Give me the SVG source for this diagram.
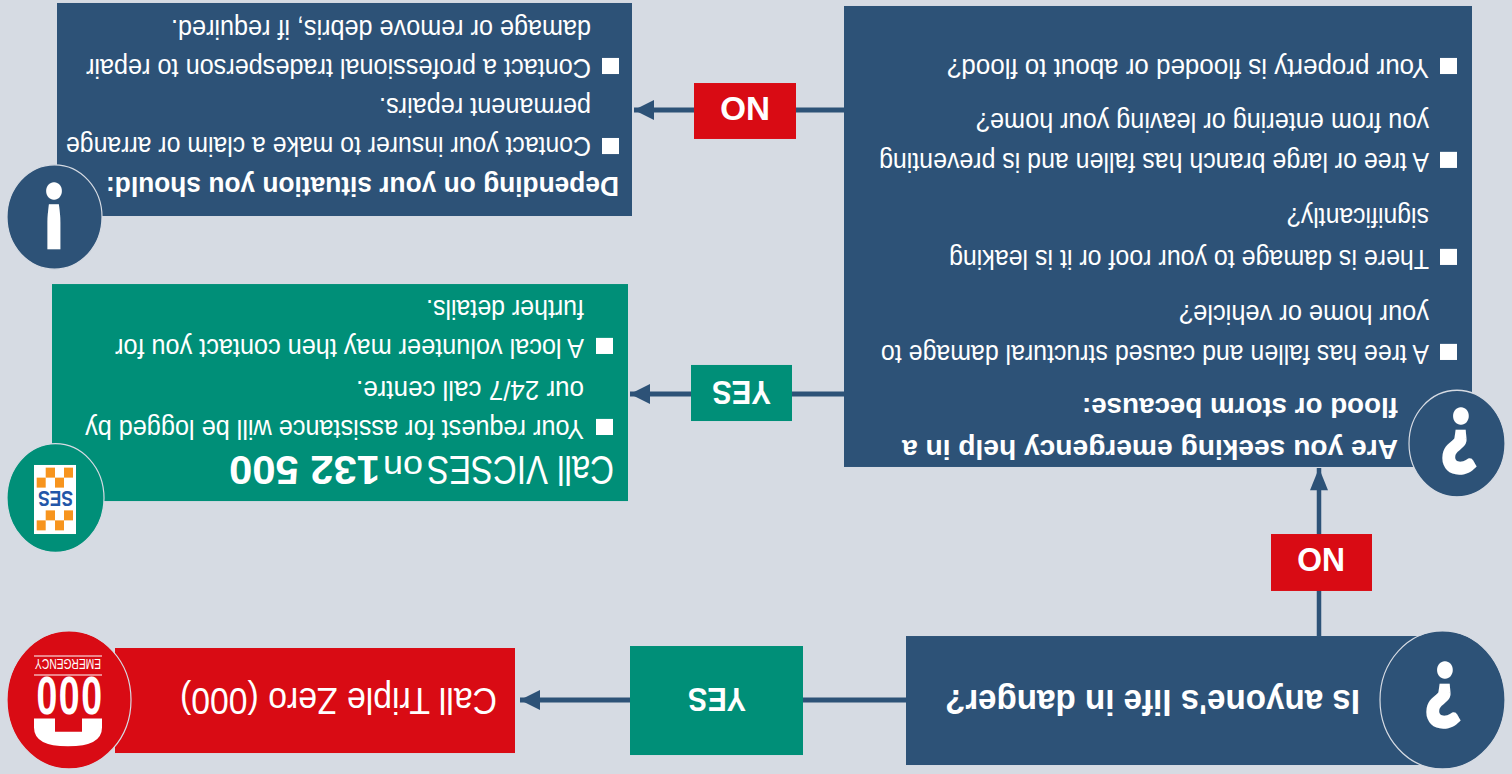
<svg xmlns="http://www.w3.org/2000/svg" width="1512" height="774" viewBox="0 0 1512 774">
<style>
text{font-family:"Liberation Sans",Arial,sans-serif;fill:#fff}
.b{font-weight:700}
.t{font-size:25px}
.h{font-size:25px;font-weight:700}
.lab{font-size:30px;font-weight:700}
.navy{fill:#2d5277}.green{fill:#008f78}.red{fill:#d90b14}
.ring{stroke:#d6dbe3;stroke-width:1.2}
.bul{fill:#fff}
.icon{font-family:Lato,"Liberation Sans",sans-serif;font-size:77px;font-weight:700;text-anchor:middle;stroke:#fff;stroke-width:4}
#connectors line{stroke:#2d5277;stroke-width:4.5;fill:none;marker-end:url(#arrow)}
</style>
<defs>
<marker id="arrow" markerUnits="userSpaceOnUse" markerWidth="24" markerHeight="22" refX="20" refY="11" orient="auto" overflow="visible">
<path d="M0 2 L20 11 L0 20 Z" fill="#2d5277"/>
</marker>
</defs>
<rect width="1512" height="774" fill="#d6dbe3"/>
<g transform="matrix(-1 0 0 -1.11 1512 774)">
<g id="connectors">
<line x1="193" y1="124" x2="193" y2="275.7"/>
<line x1="606" y1="66.7" x2="992" y2="66.7"/>
<line x1="668" y1="342.3" x2="882" y2="342.3"/>
<line x1="668" y1="598.2" x2="878" y2="598.2"/>
</g>
<g id="q1">
<rect class="navy" x="72" y="8.1" width="534" height="116.2"/>
<ellipse class="navy ring" cx="69.5" cy="66.7" rx="62.5" ry="62.2"/>
<text class="icon" x="69" y="99">?</text>
<text class="b" x="152" y="75.5" font-size="31" textLength="415" lengthAdjust="spacingAndGlyphs">Is anyone's life in danger?</text>
</g>
<g id="no1">
<rect class="red" x="140" y="164.9" width="101" height="51.3"/>
<text class="lab" x="167" y="203.6" textLength="48" lengthAdjust="spacingAndGlyphs">NO</text>
</g>
<g id="q2">
<rect class="navy" x="40" y="276.6" width="628" height="415.3"/>
<ellipse class="navy ring" cx="55" cy="297.7" rx="48" ry="48"/>
<text class="icon" x="53" y="328">?</text>
<text class="h" x="114" y="300.9" textLength="496" lengthAdjust="spacingAndGlyphs">Are you seeking emergency help in a</text>
<text class="h" x="114" y="338.7" textLength="316" lengthAdjust="spacingAndGlyphs">flood or storm because:</text>
<rect class="bul" x="55" y="373" width="17" height="14.5"/>
<text class="t" x="83" y="386.5" textLength="548" lengthAdjust="spacingAndGlyphs">A tree has fallen and caused structural damage to</text>
<text class="t" x="83" y="422.5" textLength="250" lengthAdjust="spacingAndGlyphs">your home or vehicle?</text>
<rect class="bul" x="55" y="458.6" width="17" height="14.5"/>
<text class="t" x="83" y="472.1" textLength="480" lengthAdjust="spacingAndGlyphs">There is damage to your roof or it is leaking</text>
<text class="t" x="83" y="509.9" textLength="142" lengthAdjust="spacingAndGlyphs">significantly?</text>
<rect class="bul" x="55" y="546" width="17" height="14.5"/>
<text class="t" x="83" y="559.5" textLength="550" lengthAdjust="spacingAndGlyphs">A tree or large branch has fallen and is preventing</text>
<text class="t" x="83" y="595.5" textLength="453" lengthAdjust="spacingAndGlyphs">you from entering or leaving your home?</text>
<rect class="bul" x="55" y="630.6" width="17" height="14.5"/>
<text class="t" x="83" y="644.1" textLength="482" lengthAdjust="spacingAndGlyphs">Your property is flooded or about to flood?</text>
</g>
<g id="yes1">
<rect class="green" x="709" y="17.1" width="173" height="98.2"/>
<text class="lab" x="766" y="77.5" textLength="58" lengthAdjust="spacingAndGlyphs">YES</text>
</g>
<g id="yes2">
<rect class="green" x="720" y="318" width="101" height="50.5"/>
<text class="lab" x="741" y="354" textLength="59" lengthAdjust="spacingAndGlyphs">YES</text>
</g>
<g id="no2">
<rect class="red" x="716" y="572.1" width="102" height="50.4"/>
<text class="lab" x="742" y="610" textLength="50" lengthAdjust="spacingAndGlyphs">NO</text>
</g>
<g id="triple-zero">
<rect class="red" x="997" y="18.9" width="400" height="94.6"/>
<text x="1015" y="77.3" font-size="34" textLength="317" lengthAdjust="spacingAndGlyphs">Call Triple Zero (000)</text>
<ellipse class="red ring" cx="1443" cy="66.7" rx="62" ry="62.2"/>
<path fill="#fff" d="M1410 50V42Q1410 25 1444 25T1478 42V50H1457V38H1430V50Z"/>
<text class="b" transform="translate(1410 87.4) scale(.78 1)" font-size="48" letter-spacing="2">000</text>
<path d="M1410 89.2H1478M1410 106.3H1478" stroke="#fff" stroke-width="1"/>
<text x="1411" y="103.6" font-size="14" textLength="66" lengthAdjust="spacingAndGlyphs">EMERGENCY</text>
</g>
<g id="vicses">
<rect class="green" x="884" y="245.9" width="576" height="195.5"/>
<text transform="translate(898 286.5) scale(.892 1)" font-size="37">Call VICSES</text>
<text x="1089" y="286.5" font-size="30" textLength="40" lengthAdjust="spacingAndGlyphs">on</text>
<text class="b" x="1132" y="286.5" font-size="37" textLength="151" lengthAdjust="spacingAndGlyphs">132 500</text>
<rect class="bul" x="899" y="305.4" width="17" height="14.5"/>
<text class="t" x="928" y="318.9" textLength="499" lengthAdjust="spacingAndGlyphs">Your request for assistance will be logged by</text>
<text class="t" x="928" y="354.1" textLength="228" lengthAdjust="spacingAndGlyphs">our 24/7 call centre.</text>
<rect class="bul" x="899" y="378.4" width="17" height="14.5"/>
<text class="t" x="928" y="391.9" textLength="469" lengthAdjust="spacingAndGlyphs">A local volunteer may then contact you for</text>
<text class="t" x="928" y="427" textLength="158" lengthAdjust="spacingAndGlyphs">further details.</text>
<ellipse class="green ring" cx="1456.5" cy="248.6" rx="48.5" ry="49"/>
<rect x="1436" y="216.2" width="42" height="62.2" fill="#fff"/>
<g fill="#f7941d">
<rect x="1439" y="267" width="9" height="9"/><rect x="1457" y="267" width="9.3" height="9"/>
<rect x="1448" y="258" width="9" height="9"/><rect x="1466.3" y="258" width="9" height="9"/>
<rect x="1439" y="228.5" width="9" height="9"/><rect x="1457" y="228.5" width="9.3" height="9"/>
<rect x="1448" y="219.5" width="9" height="9"/><rect x="1466.3" y="219.5" width="9" height="9"/>
</g>
<text class="b" x="1439" y="255" font-size="20" textLength="35" lengthAdjust="spacingAndGlyphs" style="fill:#2356a8">SES</text>
</g>
<g id="info">
<rect class="navy" x="880" y="502.7" width="575" height="191.9"/>
<text class="h" x="893" y="537.8" textLength="513" lengthAdjust="spacingAndGlyphs">Depending on your situation you should:</text>
<rect class="bul" x="893" y="558.5" width="17" height="14.5"/>
<text class="t" x="921" y="573.9" textLength="525" lengthAdjust="spacingAndGlyphs">Contact your insurer to make a claim or arrange</text>
<text class="t" x="921" y="609" textLength="212" lengthAdjust="spacingAndGlyphs">permanent repairs.</text>
<rect class="bul" x="893" y="630.6" width="17" height="14.5"/>
<text class="t" x="921" y="644.1" textLength="505" lengthAdjust="spacingAndGlyphs">Contact a professional tradesperson to repair</text>
<text class="t" x="921" y="679.3" textLength="420" lengthAdjust="spacingAndGlyphs">damage or remove debris, if required.</text>
<ellipse class="navy ring" cx="1457.5" cy="501.8" rx="47.5" ry="47"/>
<text class="icon" x="1458" y="531">!</text>
</g>
</g>
</svg>
